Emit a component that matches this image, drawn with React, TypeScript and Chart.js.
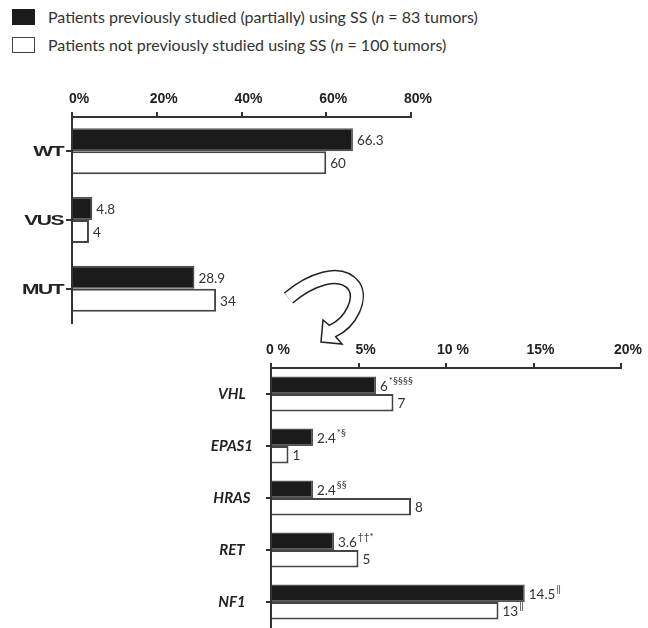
import React, { useEffect, useRef } from 'react';
import { Chart, registerables } from 'chart.js';

Chart.register(...registerables);

// ---- Data ----
const topCategories = ['WT', 'VUS', 'MUT'];
const topPrevStudied = [66.3, 4.8, 28.9];
const topNotStudied = [60, 4, 34];
const topTickLabels = ['0%', '20%', '40%', '60%', '80%'];

const geneCategories = ['VHL', 'EPAS1', 'HRAS', 'RET', 'NF1'];
const genePrevStudied = [6, 2.4, 2.4, 3.6, 14.5];
const geneNotStudied = [7, 1, 8, 5, 13];
const genePrevNotes = ['*§§§§', '*§', '§§', '††*', '‖'];
const geneNotNotes = ['', '', '', '', '‖'];
const geneTickLabels = ['0 %', '5%', '10 %', '15%', '20%'];

const legendPrev = 'Patients previously studied (partially) using SS (';
const legendPrevTail = ' = 83 tumors)';
const legendNot = 'Patients not previously studied using SS (';
const legendNotTail = ' = 100 tumors)';

const AXIS = '#333333';
const BLACK = '#1b1b1b';

function valueLabelPlugin(notes: string[][]) {
  return {
    id: 'valueLabels',
    afterDatasetsDraw(chart: any) {
      const ctx = chart.ctx;
      ctx.save();
      chart.data.datasets.forEach((ds: any, di: number) => {
        const meta = chart.getDatasetMeta(di);
        meta.data.forEach((el: any, i: number) => {
          const txt = String(ds.data[i]);
          const x = el.x + 4;
          const y = el.y + 1;
          ctx.font = '13.5px Lato';
          ctx.fillStyle = '#333';
          ctx.textAlign = 'left';
          ctx.textBaseline = 'middle';
          ctx.fillText(txt, x, y);
          const note = notes[di] ? notes[di][i] : '';
          if (note) {
            const w = ctx.measureText(txt).width;
            ctx.font = '10px Lato';
            ctx.fillText(note, x + w + 1, y - 6);
          }
        });
      });
      ctx.restore();
    },
  };
}

const topYLabelPlugin = {
  id: 'topYLabels',
  afterDraw(chart: any) {
    const ys = chart.scales.y;
    const ctx = chart.ctx;
    topCategories.forEach((lab, i) => {
      const y = ys.getPixelForValue(i);
      ctx.save();
      ctx.font = 'bold 14px "Liberation Sans"';
      try { (ctx as any).letterSpacing = '-1px'; } catch (e) {}
      ctx.fillStyle = '#222';
      ctx.textAlign = 'right';
      ctx.textBaseline = 'middle';
      ctx.translate(ys.right - 9, y + 1);
      ctx.scale(1.5, 1);
      ctx.fillText(lab, 0, 0);
      ctx.restore();
    });
  },
};

function barDatasets(prev: number[], not: number[]) {
  return [
    {
      data: prev,
      backgroundColor: BLACK,
      borderColor: '#505050',
      borderWidth: 1.5,
      categoryPercentage: 0.67,
      barPercentage: 1,
    },
    {
      data: not,
      backgroundColor: '#ffffff',
      borderColor: '#454545',
      borderWidth: 2,
      categoryPercentage: 0.67,
      barPercentage: 1,
    },
  ];
}

function fixYAxis(width: number) {
  return (s: any) => {
    s.width = width;
    s.paddingTop = 0;
    s.paddingBottom = 0;
  };
}

function topConfig(): any {
  return {
    type: 'bar',
    data: { labels: topCategories, datasets: barDatasets(topPrevStudied, topNotStudied) },
    options: {
      indexAxis: 'y',
      responsive: false,
      animation: false,
      layout: { padding: { left: 0, right: 29, top: 0, bottom: 7 } },
      plugins: { legend: { display: false }, tooltip: { enabled: false } },
      scales: {
        x: {
          position: 'top',
          min: 0,
          max: 80,
          ticks: {
            stepSize: 20,
            callback: (_v: any, i: number) => topTickLabels[i],
            font: { family: 'Liberation Sans', size: 14, weight: 'bold' },
            color: '#222',
            labelOffset: 7,
            padding: 4,
          },
          grid: { drawOnChartArea: false, drawTicks: true, tickLength: 5, color: AXIS, lineWidth: 2 },
          border: { display: true, color: AXIS, width: 2 },
          afterFit: (s: any) => { s.height = 37; },
        },
        y: {
          ticks: { display: false },
          grid: { offset: false, drawOnChartArea: false, drawTicks: true, tickLength: 6, color: AXIS, lineWidth: 2 },
          border: { display: true, color: AXIS, width: 2 },
          afterFit: fixYAxis(72),
        },
      },
    },
    plugins: [valueLabelPlugin([[], []]), topYLabelPlugin],
  };
}

function geneConfig(): any {
  return {
    type: 'bar',
    data: { labels: geneCategories, datasets: barDatasets(genePrevStudied, geneNotStudied) },
    options: {
      indexAxis: 'y',
      responsive: false,
      animation: false,
      layout: { padding: { left: 0, right: 27, top: 0, bottom: 0 } },
      plugins: { legend: { display: false }, tooltip: { enabled: false } },
      scales: {
        x: {
          position: 'top',
          min: 0,
          max: 20,
          ticks: {
            stepSize: 5,
            callback: (_v: any, i: number) => geneTickLabels[i],
            font: { family: 'Liberation Sans', size: 14, weight: 'bold' },
            color: '#222',
            labelOffset: 7,
            padding: 4,
          },
          grid: { drawOnChartArea: false, drawTicks: true, tickLength: 5, color: AXIS, lineWidth: 2 },
          border: { display: true, color: AXIS, width: 2 },
          afterFit: (s: any) => { s.height = 38; },
        },
        y: {
          ticks: {
            font: { family: 'Lato', size: 15, weight: 'bold', style: 'italic' },
            color: '#222',
            crossAlign: 'center',
            padding: 13,
          },
          grid: { offset: false, drawOnChartArea: false, drawTicks: true, tickLength: 5, color: AXIS, lineWidth: 2 },
          border: { display: true, color: AXIS, width: 2 },
          afterFit: fixYAxis(121),
        },
      },
    },
    plugins: [valueLabelPlugin([genePrevNotes, geneNotNotes])],
  };
}

function ChartBox(props: { left: number; top: number; width: number; height: number; make: () => any }) {
  const ref = useRef<HTMLCanvasElement>(null);
  useEffect(() => {
    if (!ref.current) return;
    const chart = new Chart(ref.current, props.make());
    return () => chart.destroy();
  }, []);
  return (
    <div style={{ position: 'absolute', left: props.left, top: props.top, width: props.width, height: props.height }}>
      <canvas ref={ref} width={props.width} height={props.height} style={{ display: 'block' }} />
    </div>
  );
}

const shaftPath = 'M 288.5,298 C 310,280 340,268 354,286 C 362,298 352,322 332.5,331 L 329,332.8';

export default function App() {
  const textStyle: React.CSSProperties = {
    position: 'absolute',
    left: 48,
    fontFamily: 'Lato, "Open Sans", sans-serif',
    fontSize: 16,
    lineHeight: '18px',
    color: '#333',
    whiteSpace: 'nowrap',
  };
  return (
    <div style={{ position: 'absolute', left: 0, top: 0, width: 648, height: 628, background: '#fff', overflow: 'hidden' }}>
      <div style={{ position: 'absolute', left: 12, top: 9, width: 23, height: 16, background: BLACK }} />
      <div style={{ ...textStyle, top: 8 }}>
        {legendPrev}<i>n</i>{legendPrevTail}
      </div>
      <div style={{ position: 'absolute', left: 12, top: 37, width: 23, height: 16, border: '1.5px solid #444', boxSizing: 'border-box', background: '#fff' }} />
      <div style={{ ...textStyle, top: 36 }}>
        {legendNot}<i>n</i>{legendNotTail}
      </div>

      <ChartBox left={0} top={80} width={440} height={250} make={topConfig} />
      <ChartBox left={150} top={330} width={498} height={298} make={geneConfig} />

      <svg width={648} height={628} style={{ position: 'absolute', left: 0, top: 0, pointerEvents: 'none' }}>
        <path d={shaftPath} stroke="#222" strokeWidth={14.5} fill="none" />
        <polygon points="321,342 323,320 329,325 336,337 342,344" fill="#fff" stroke="#222" strokeWidth={1.5} />
        <path d={shaftPath} stroke="#fff" strokeWidth={11.5} fill="none" />
      </svg>
    </div>
  );
}
